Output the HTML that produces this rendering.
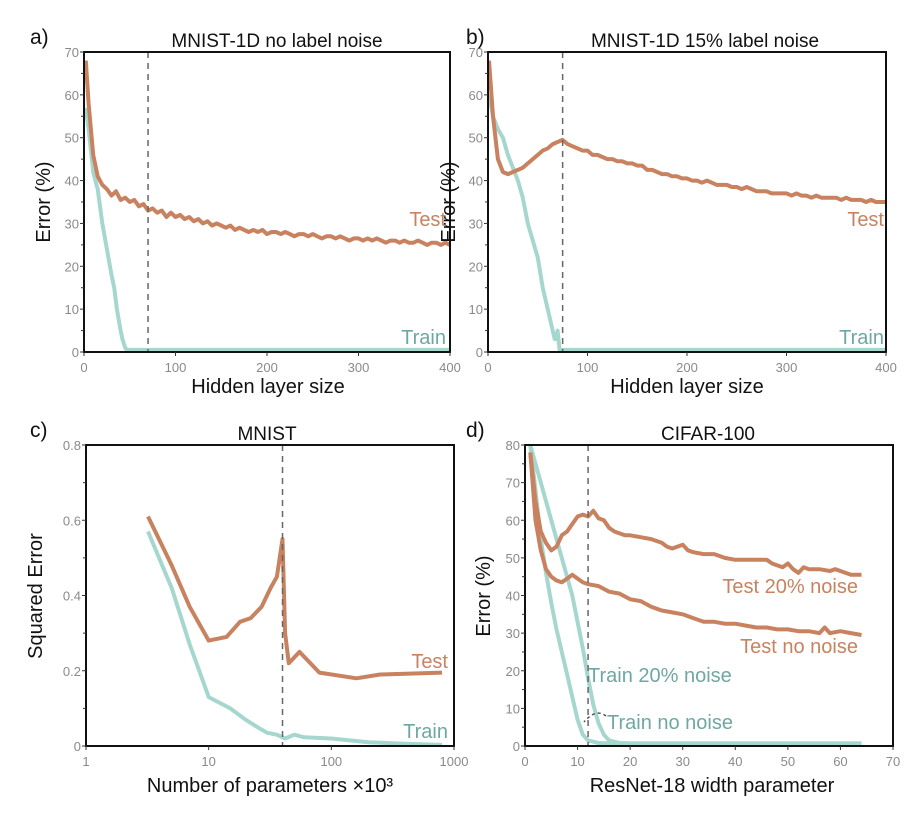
<!DOCTYPE html>
<html><head><meta charset="utf-8"><style>
body{margin:0;background:#fff;}
svg text{font-family:"Liberation Sans",sans-serif;}
</style></head><body>
<svg id="fig" width="909" height="818" xmlns="http://www.w3.org/2000/svg"></svg>
<script>
// ---------- data ----------
const aX=[2,5,10,15,20,25,30,35,40,45,50,55,60,65,70,75,80,85,90,95,100,105,110,115,120,125,130,135,140,145,150,155,160,165,170,175,180,185,190,195,200,205,210,215,220,225,230,235,240,245,250,255,260,265,270,275,280,285,290,295,300,305,310,315,320,325,330,335,340,345,350,355,360,365,370,375,380,385,390,395,400];
const aTest=[68,58,46,41,39,38,36.5,37.5,35.5,36,35,35.5,34,34.5,33,33.5,32.5,33,31.5,32.5,31.5,32,31,31.5,30.5,31,30,30.5,29.5,30,29.5,29,29.5,28.5,29,28.5,28,28.5,28,28.5,27.5,28,28,27.5,28,27.5,27,27.5,27.5,27,27.5,27,26.5,27,27,26.5,27,26.5,26,26.5,26.5,26,26.5,26,26.5,26,25.5,26,26,25.5,26,25.5,25.5,26,25.5,25,25.5,25.5,25,25.5,25];
const aTrainX=[2,5,10,15,20,25,30,33,36,40,42,45,47,100,200,300,400];
const aTrain=[57,52,42,38,30,24,18,15,10,5,3,1,0.5,0.5,0.5,0.5,0.5];
const bX=[1,5,10,15,20,25,30,35,40,45,50,55,60,65,70,75,80,85,90,95,100,105,110,115,120,125,130,135,140,145,150,155,160,165,170,175,180,185,190,195,200,205,210,215,220,225,230,235,240,245,250,255,260,265,270,275,280,285,290,295,300,305,310,315,320,325,330,335,340,345,350,355,360,365,370,375,380,385,390,395,400];
const bTest=[68,55,45,42,41.5,42,42.5,43,44,45,46,47,47.5,48.5,49,49.5,48.5,48,47.5,47,47,46,46,45.5,45,45,44.5,44.5,44,44,43.5,43.5,42.5,42.5,42,41.5,41.5,41,41,40.5,40.5,40,40,39.5,40,39.5,39,39,39,38.5,38.5,38,38.5,38,37.5,37.5,37.5,37,37,37,37,36.5,37,36.5,36.5,36,36.5,36,36,36,36,35.5,36,35.5,35.5,35.5,35,35.5,35,35,35];
const bTrainX=[1,5,10,15,20,25,30,35,40,45,50,55,60,65,67,68,70,72,100,200,300,400];
const bTrain=[60,55,52,50,46,43,40,36,30,26,22,15,10,5,3,3,5,0.5,0.5,0.5,0.5,0.5];
const cX=[3.2,5,7,10,14,18,22,27,32,36,40,42,45,55,80,160,250,800];
const cTest=[0.61,0.48,0.37,0.28,0.29,0.33,0.34,0.37,0.42,0.45,0.55,0.30,0.22,0.25,0.195,0.18,0.19,0.195];
const cTrainX=[3.2,5,7,10,15,20,25,30,36,42,50,60,100,200,400,800];
const cTrain=[0.57,0.42,0.27,0.13,0.10,0.07,0.05,0.035,0.03,0.02,0.03,0.023,0.02,0.01,0.006,0.003];
const dX20=[1,2,3,4,5,6,7,8,9,10,11,12,13,14,15,16,17,18,19,20,22,24,26,27,28,29,30,31,32,34,36,38,40,42,44,46,47,48,49,50,51,52,53,54,56,58,59,60,62,64];
const dTest20=[78,65,57,54,52,53,56,57,59,61,61.5,61,62.5,60.5,60,58,57,56.5,56,56,55.5,55,54,53,52.5,53,53.5,52,51.5,51,51,50,49.5,49.5,49.5,49.5,48.5,48,47.5,48.5,47,46,47.5,47,47,46.5,47,46.5,45.5,45.5];
const dX0=[1,2,3,4,5,6,7,8,9,10,11,12,14,16,18,20,22,24,26,28,30,32,34,36,38,40,42,44,46,48,50,52,54,56,57,58,60,62,64];
const dTest0=[78,60,52,47,45,44,43.5,44.5,45.5,44.5,43.5,43,42.5,41,40.5,39,38.5,37,36,35.5,35,34,33,33,32.5,32.5,32,31.5,31.5,31,31,30.5,30.5,30,31.5,30,30.5,30,29.5];
const dTrX20=[1,3,5,7,9,11,12,13,14,15,16,18,20,64];
const dTrain20=[80,70,60,50,40,26,18,11,6,3,1.5,0.8,0.7,0.7];
const dTrX0=[1,2,3,4,5,6,7,8,9,10,11,12,14,16,64];
const dTrain0=[80,68,55,46,38,31,25,19,13,7,3,1.5,0.8,0.7,0.7];
const aTicks=[0,100,200,300,400], aYTicks=[0,10,20,30,40,50,60,70];
const cTicks=[1,10,100,1000], cYTicks=[0,0.2,0.4,0.6,0.8];
const dTicks=[0,10,20,30,40,50,60,70], dYTicks=[0,10,20,30,40,50,60,70,80];

const NS="http://www.w3.org/2000/svg", svg=document.getElementById('fig');
const TEST="#c8825f", TRAIN="#a6d7cf", TRAINTXT="#6fa7a3", GRAY="#8a8a8a";
function el(t,a,p){const e=document.createElementNS(NS,t);for(const k in a)e.setAttribute(k,a[k]);(p||svg).appendChild(e);return e;}
function txt(s,x,y,size,fill,anchor,extra){const e=el('text',Object.assign({x:x,y:y,'font-size':size,fill:fill,'text-anchor':anchor||'middle'},extra||{}));e.textContent=s;return e;}

function panel(o){
  const g=el('g',{});
  
  
  const sx=v=>o.log? o.L+(Math.log10(v)-Math.log10(o.x0))/(Math.log10(o.x1)-Math.log10(o.x0))*(o.R-o.L) : o.L+(v-o.x0)/(o.x1-o.x0)*(o.R-o.L);
  const sy=v=>o.B-(v-o.y0)/(o.y1-o.y0)*(o.B-o.T);
  o.series.forEach(s=>{
    const p=el('polyline',{points:s.x.map((x,i)=>sx(x).toFixed(1)+','+sy(s.y[i]).toFixed(1)).join(' '),fill:'none',stroke:s.c,'stroke-width':s.w||4,'stroke-linejoin':'round'},g);
    
    
  });
  const dl=el('line',{x1:sx(o.dash),x2:sx(o.dash),y1:o.T,y2:o.B,stroke:'#666','stroke-width':1.5,'stroke-dasharray':'6,5'},g);
  
  
  const box=el('rect',{x:o.L,y:o.T,width:o.R-o.L,height:o.B-o.T,fill:'none',stroke:'#111','stroke-width':2},g);
  
  
  o.xt.forEach(v=>{el('line',{x1:sx(v),x2:sx(v),y1:o.B,y2:o.B+4,stroke:'#333'},g);
    const t=txt(String(v),sx(v),o.B+20,13,GRAY,'middle');g.appendChild(t);
    });
  o.yt.forEach((v,i)=>{el('line',{x1:o.L-4,x2:o.L,y1:sy(v),y2:sy(v),stroke:'#333'},g);
    if(i<o.yt.length-1){const m=(v+o.yt[i+1])/2;el('line',{x1:o.L-3,x2:o.L,y1:sy(m),y2:sy(m),stroke:'#333'},g);}
    const t=txt(String(v),o.L-5,sy(v)+5,13,GRAY,'end');g.appendChild(t);
    });
  return {sx,sy};
}
panel({name:'panel-a',L:84,R:450,T:52,B:352,x0:0,x1:400,y0:0,y1:70,dash:70,xt:aTicks,yt:aYTicks,
  series:[{x:aTrainX,y:aTrain,c:TRAIN,name:'train-line'},{x:aX,y:aTest,c:TEST,name:'test-line'}]});
panel({name:'panel-b',L:488,R:886,T:52,B:352,x0:0,x1:400,y0:0,y1:70,dash:75,xt:aTicks,yt:aYTicks,
  series:[{x:bTrainX,y:bTrain,c:TRAIN,name:'train-line'},{x:bX,y:bTest,c:TEST,name:'test-line'}]});
panel({name:'panel-c',log:true,L:86,R:454,T:445,B:746,x0:1,x1:1000,y0:0,y1:0.8,dash:40,xt:cTicks,yt:cYTicks,
  series:[{x:cTrainX,y:cTrain,c:TRAIN,name:'train-line'},{x:cX,y:cTest,c:TEST,name:'test-line'}]});
panel({name:'panel-d',L:525,R:893,T:445,B:746,x0:0,x1:70,y0:0,y1:80,dash:12,xt:dTicks,yt:dYTicks,
  series:[{x:dTrX0,y:dTrain0,c:TRAIN,name:'train-no-noise-line'},{x:dTrX20,y:dTrain20,c:TRAIN,name:'train-20-noise-line'},
          {x:dX0,y:dTest0,c:TEST,name:'test-no-noise-line'},{x:dX20,y:dTest20,c:TEST,name:'test-20-noise-line'}]});

function label(s,x,y,size,fill,anchor,name,rot){
  const t=txt(s,x,y,size,fill,anchor,rot?{transform:'rotate(-90 '+x+' '+y+')'}:null);
  
  
}
label('a)',30,44,21,'#111','start','panel-letter-a');
label('b)',466,44,21,'#111','start','panel-letter-b');
label('c)',30,437,21,'#111','start','panel-letter-c');
label('d)',466,437,21,'#111','start','panel-letter-d');
label('MNIST-1D no label noise',277,47,19,'#111','middle','title-a');
label('MNIST-1D 15% label noise',705,47,19,'#111','middle','title-b');
label('MNIST',267,440,19,'#111','middle','title-c');
label('CIFAR-100',708,440,19,'#111','middle','title-d');
label('Hidden layer size',268,393,20,'#111','middle','x-axis-title-a');
label('Hidden layer size',687,393,20,'#111','middle','x-axis-title-b');
label('Number of parameters ×10³',270,792,20,'#111','middle','x-axis-title-c');
label('ResNet-18 width parameter',712,792,20,'#111','middle','x-axis-title-d');
label('Error (%)',50,202,20,'#111','middle','y-axis-title-a',true);
label('Error (%)',455,202,20,'#111','middle','y-axis-title-b',true);
label('Squared Error',42,596,20,'#111','middle','y-axis-title-c',true);
label('Error (%)',490,596,20,'#111','middle','y-axis-title-d',true);
label('Test',446,226,20,TEST,'end','test-label-a');
label('Train',446,344,20,TRAINTXT,'end','train-label-a');
label('Test',884,226,20,TEST,'end','test-label-b');
label('Train',884,344,20,TRAINTXT,'end','train-label-b');
label('Test',448,668,20,TEST,'end','test-label-c');
label('Train',448,738,20,TRAINTXT,'end','train-label-c');
label('Test 20% noise',858,593,20,TEST,'end','test-20-noise-label');
label('Test no noise',858,653,20,TEST,'end','test-no-noise-label');
label('Train 20% noise',588,682,20,TRAINTXT,'start','train-20-noise-label');
label('Train no noise',607,729,20,TRAINTXT,'start','train-no-noise-label');
const ar=el('path',{d:'M606,716 Q596,708 584,722',fill:'none',stroke:'#555','stroke-width':1.5,'stroke-dasharray':'3,3'});


</script>
</body></html>
